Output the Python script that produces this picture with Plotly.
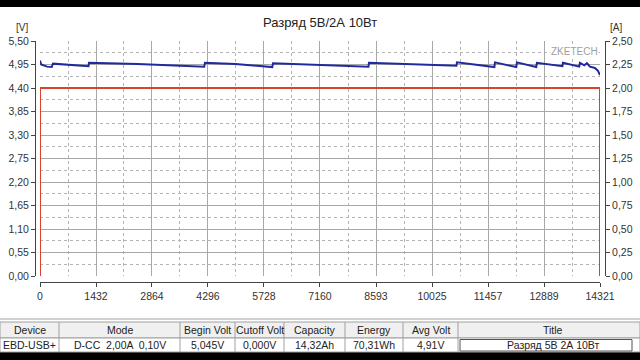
import plotly.graph_objects as go

# ---- data ----
volt_t = [0, 30, 180, 300, 332, 600, 1240, 1253, 2500, 4200, 4219, 5000, 5940, 5958,
          7500, 8400, 8413, 10650, 10663, 11620, 11635, 12180, 12197, 12690, 12708,
          13360, 13373, 13790, 13808, 13920, 13987, 14064, 14192, 14269, 14321]
volt_v = [5.045, 4.95, 4.90, 4.89, 4.97, 4.95, 4.91, 4.99, 4.96, 4.90, 4.99, 4.96, 4.89, 4.98,
          4.94, 4.90, 4.99, 4.92, 5.00, 4.89, 5.00, 4.89, 5.00, 4.89, 4.99,
          4.91, 4.99, 4.90, 4.99, 4.93, 4.98, 4.90, 4.87, 4.80, 4.70]
curr_t = [0, 0, 14321, 14321]
curr_a = [0.0, 2.0, 2.0, 0.0]

x_ticks = [0, 1432, 2864, 4296, 5728, 7160, 8593, 10025, 11457, 12889, 14321]
x_labels = ["0", "1432", "2864", "4296", "5728", "7160", "8593", "10025", "11457", "12889", "14321"]
v_ticks = [0.0, 0.55, 1.10, 1.65, 2.20, 2.75, 3.30, 3.85, 4.40, 4.95, 5.50]
v_labels = ["0,00", "0,55", "1,10", "1,65", "2,20", "2,75", "3,30", "3,85", "4,40", "4,95", "5,50"]
a_ticks = [0.0, 0.25, 0.50, 0.75, 1.00, 1.25, 1.50, 1.75, 2.00, 2.25, 2.50]
a_labels = ["0,00", "0,25", "0,50", "0,75", "1,00", "1,25", "1,50", "1,75", "2,00", "2,25", "2,50"]

title = "Разряд 5В/2А 10Вт"
table_head = ["Device", "Mode", "Begin Volt", "Cutoff Volt", "Capacity", "Energy", "Avg Volt", "Title"]
table_row = ["EBD-USB+", "D-CC  2,00A  0,10V", "5,045V", "0,000V", "14,32Ah", "70,31Wh", "4,91V",
             "Разряд 5В 2А 10Вт"]
col_edges = [0, 59, 180, 235, 284, 345, 403, 458, 648]

# ---- layout helpers (pixel -> paper) ----
W, H = 640, 360
ML, MR, MT, MB = 35, 35, 41, 78
PW, PH = W - ML - MR, H - MT - MB


def px(x):
    return (x - ML) / PW


def py(y):
    return (H - MB - y) / PH


FONT = "Liberation Sans"
GRID = "#a8a8a8"
MINOR = "#b4b4b4"

x_minor = [(x_ticks[i] + x_ticks[i + 1]) / 2 for i in range(len(x_ticks) - 1)]
v_minor = [(v_ticks[i] + v_ticks[i + 1]) / 2 for i in range(len(v_ticks) - 1)]

fig = go.Figure()
fig.add_trace(go.Scatter(x=volt_t, y=volt_v, mode="lines", line=dict(color="#1f2a9e", width=2),
                         yaxis="y", showlegend=False, hoverinfo="skip"))
fig.add_trace(go.Scatter(x=curr_t, y=curr_a, mode="lines", line=dict(color="#d8432c", width=2),
                         yaxis="y2", showlegend=False, hoverinfo="skip"))

axis_font = dict(family=FONT, size=10.5, color="#333333")

fig.update_layout(
    width=W, height=H,
    margin=dict(l=ML, r=MR, t=MT, b=MB, pad=0, autoexpand=False),
    paper_bgcolor="white", plot_bgcolor="white",
    xaxis=dict(domain=[px(40), px(600)], range=[0, 14321], anchor="free", position=0,
               automargin=False,
               tickmode="array", tickvals=x_ticks, ticktext=x_labels,
               showgrid=True, gridcolor=GRID, gridwidth=1, zeroline=False,
               showline=True, linecolor="#444444", linewidth=1,
               ticks="outside", ticklen=4, tickcolor="#444444", tickfont=axis_font,
               minor=dict(tickvals=x_minor, showgrid=True, gridcolor=MINOR, griddash="dot",
                          gridwidth=1, ticks="")),
    yaxis=dict(domain=[py(276), py(41)], range=[0, 5.5], anchor="free", position=0,
               automargin=False,
               tickmode="array", tickvals=v_ticks, ticktext=v_labels,
               showgrid=True, gridcolor=GRID, gridwidth=1, zeroline=False,
               showline=True, linecolor="#444444", linewidth=1,
               ticks="outside", ticklen=4, tickcolor="#444444", tickfont=axis_font,
               minor=dict(tickvals=v_minor, showgrid=True, gridcolor=MINOR, griddash="dot",
                          gridwidth=1, ticks="")),
    yaxis2=dict(range=[0, 2.5], overlaying="y", side="right", anchor="free", position=1,
                automargin=False,
                tickmode="array", tickvals=a_ticks, ticktext=a_labels,
                showgrid=False, zeroline=False,
                showline=True, linecolor="#444444", linewidth=1,
                ticks="outside", ticklen=4, tickcolor="#444444", tickfont=axis_font),
)

shapes = []
ann = []

# black bars top/bottom
shapes.append(dict(type="rect", xref="paper", yref="paper", x0=px(0), x1=px(640), y0=py(0), y1=py(7),
                   fillcolor="black", line=dict(width=0), layer="above"))
shapes.append(dict(type="rect", xref="paper", yref="paper", x0=px(0), x1=px(640), y0=py(352), y1=py(360),
                   fillcolor="black", line=dict(width=0), layer="above"))
# light separator above table
shapes.append(dict(type="line", xref="paper", yref="paper", x0=px(0), x1=px(640), y0=py(319), y1=py(319),
                   line=dict(color="#d0d0d0", width=2)))
# table header background
shapes.append(dict(type="rect", xref="paper", yref="paper", x0=px(0), x1=px(640), y0=py(322), y1=py(338),
                   fillcolor="#f0f0f0", line=dict(color="#a0a0a0", width=1)))
shapes.append(dict(type="rect", xref="paper", yref="paper", x0=px(0), x1=px(640), y0=py(338), y1=py(352),
                   fillcolor="white", line=dict(color="#a0a0a0", width=1)))
for e in col_edges[1:-1]:
    shapes.append(dict(type="line", xref="paper", yref="paper", x0=px(e), x1=px(e), y0=py(322), y1=py(352),
                       line=dict(color="#a0a0a0", width=1)))
# title cell box
shapes.append(dict(type="rect", xref="paper", yref="paper", x0=px(460), x1=px(632), y0=py(339.5), y1=py(351),
                   fillcolor="white", line=dict(color="#555555", width=1)))

tfont = dict(family=FONT, size=10.5, color="#222222")
for i in range(len(table_head)):
    cx = (col_edges[i] + col_edges[i + 1]) / 2
    if i == len(table_head) - 1:
        cx = 553
    ann.append(dict(x=px(cx), y=py(330), xref="paper", yref="paper", text=table_head[i],
                    showarrow=False, font=tfont, xanchor="center", yanchor="middle"))
    ann.append(dict(x=px(cx), y=py(345), xref="paper", yref="paper", text=table_row[i],
                    showarrow=False, font=tfont, xanchor="center", yanchor="middle"))

# title and axis unit labels
ann.append(dict(x=px(320), y=py(22), xref="paper", yref="paper", text=title, showarrow=False,
                font=dict(family=FONT, size=13, color="#222222"), xanchor="center", yanchor="middle"))
ann.append(dict(x=px(22), y=py(28), xref="paper", yref="paper", text="[V]", showarrow=False,
                font=dict(family=FONT, size=10, color="#333333"), xanchor="center", yanchor="middle"))
ann.append(dict(x=px(616), y=py(28), xref="paper", yref="paper", text="[A]", showarrow=False,
                font=dict(family=FONT, size=10, color="#333333"), xanchor="center", yanchor="middle"))
# watermark
ann.append(dict(x=px(574), y=py(52), xref="paper", yref="paper", text="ZKETECH", showarrow=False,
                font=dict(family=FONT, size=10, color="#a0a0a0"), bgcolor="white",
                xanchor="center", yanchor="middle", borderpad=0))

fig.update_layout(shapes=shapes, annotations=ann)
fig.write_html("out.html")
